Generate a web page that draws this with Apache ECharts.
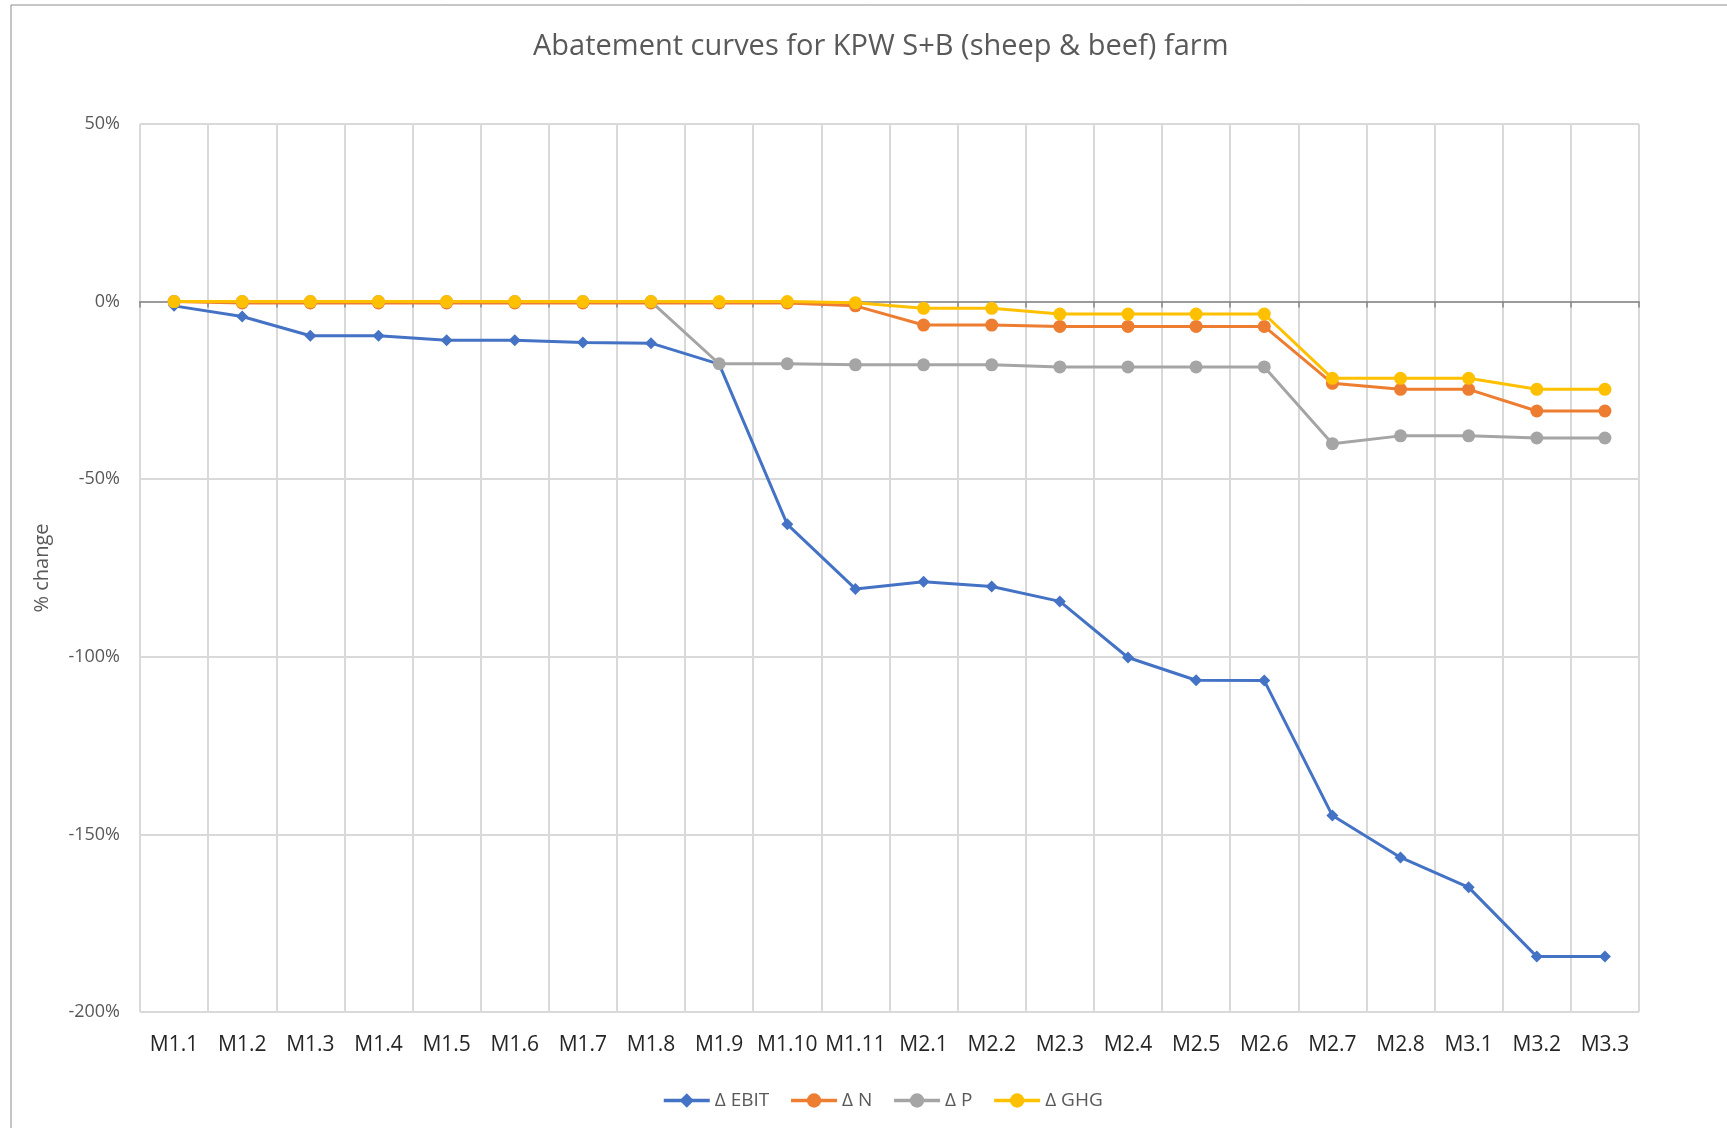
<!DOCTYPE html>
<html>
<head>
<meta charset="utf-8">
<script src="https://cdn.jsdelivr.net/npm/echarts@6/dist/echarts.min.js"></script>
<style>
html,body{margin:0;padding:0;background:#fff;}
#c{width:1727px;height:1128px;}
</style>
</head>
<body>
<div id="c"></div>
<script>
const categories = ['M1.1','M1.2','M1.3','M1.4','M1.5','M1.6','M1.7','M1.8','M1.9','M1.10','M1.11','M2.1','M2.2','M2.3','M2.4','M2.5','M2.6','M2.7','M2.8','M3.1','M3.2','M3.3'];
const ebit = [-1.2,-4.2,-9.6,-9.6,-10.9,-10.9,-11.5,-11.7,-17.6,-62.7,-80.9,-78.9,-80.2,-84.4,-100.2,-106.6,-106.7,-144.7,-156.5,-164.9,-184.4,-184.4];
const dN   = [0,-0.4,-0.4,-0.4,-0.4,-0.4,-0.4,-0.4,-0.4,-0.4,-1.2,-6.6,-6.6,-7.0,-7.0,-7.0,-7.0,-23.0,-24.7,-24.7,-30.8,-30.8];
const dP   = [0,0,0,0,0,0,0,0,-17.5,-17.5,-17.8,-17.8,-17.8,-18.4,-18.4,-18.4,-18.4,-40.0,-37.8,-37.8,-38.4,-38.4];
const dGHG = [0,0,0,0,0,0,0,0,0,0,-0.3,-1.9,-1.9,-3.5,-3.5,-3.5,-3.5,-21.6,-21.6,-21.6,-24.7,-24.7];
const seriesNames = ['\u0394 EBIT','\u0394 N','\u0394 P','\u0394 GHG'];
const colors = ['#4472C4','#ED7D31','#A5A5A5','#FFC000'];

const chart = echarts.init(document.getElementById('c'));
const font = 'Open Sans';
function mk(i, data, symbol, size){
  return {
    name: seriesNames[i], type: 'line', data: data,
    xAxisIndex: 0, yAxisIndex: 0,
    symbol: symbol, symbolSize: size, showAllSymbol: true,
    lineStyle: {color: colors[i], width: 3},
    itemStyle: {color: colors[i]},
    emphasis: {disabled: true},
    animation: false, z: 3 + i
  };
}
chart.setOption({
  animation: false,
  textStyle: {fontFamily: font},
  graphic: [{
    type: 'rect', shape: {x: 11, y: 5, width: 1760, height: 1160},
    style: {fill: 'none', stroke: '#8c8c8c', lineWidth: 1}, silent: true, z: -10
  }],
  title: {
    text: 'Abatement curves for KPW S+B (sheep & beef) farm',
    left: 528, top: 27,
    textStyle: {fontFamily: font, fontSize: 29, fontWeight: 'normal', color: '#595959'}
  },
  legend: {
    bottom: 13, left: 657,
    itemWidth: 46, itemHeight: 18, itemGap: 20,
    lineStyle: {width: 3.5},
    textStyle: {fontFamily: font, fontSize: 19, color: '#595959'},
    data: seriesNames
  },
  grid: {left: 140, right: 88, top: 124, bottom: 116, containLabel: false},
  xAxis: [{
    type: 'category', data: categories, boundaryGap: true,
    axisLine: {show: false}, axisTick: {show: false},
    axisLabel: {fontFamily: font, fontSize: 21, color: '#262626', margin: 23, interval: 0},
    splitLine: {show: true, interval: 0, lineStyle: {color: '#d9d9d9', width: 2}}
  },{
    type: 'category', data: categories, boundaryGap: true, position: 'bottom',
    axisLine: {show: true, onZero: true, onZeroAxisIndex: 0, lineStyle: {color: '#868686', width: 1.5}},
    axisTick: {show: true, interval: 0, length: 6, lineStyle: {color: '#868686', width: 1.5}},
    axisLabel: {show: false}, splitLine: {show: false}
  }],
  yAxis: [{
    type: 'value', min: -200, max: 50, interval: 50,
    name: '% change', nameLocation: 'middle', nameGap: 88, nameRotate: 90,
    nameTextStyle: {fontFamily: font, fontSize: 20, color: '#595959'},
    axisLine: {show: false}, axisTick: {show: false},
    axisLabel: {fontFamily: font, fontSize: 18, color: '#595959', margin: 20, formatter: v => v + '%'},
    splitLine: {show: true, lineStyle: {color: '#d9d9d9', width: 2}}
  }],
  series: [
    mk(0, ebit, 'diamond', 12),
    mk(1, dN, 'circle', 13),
    mk(2, dP, 'circle', 13),
    mk(3, dGHG, 'circle', 13)
  ]
});
</script>
</body>
</html>
